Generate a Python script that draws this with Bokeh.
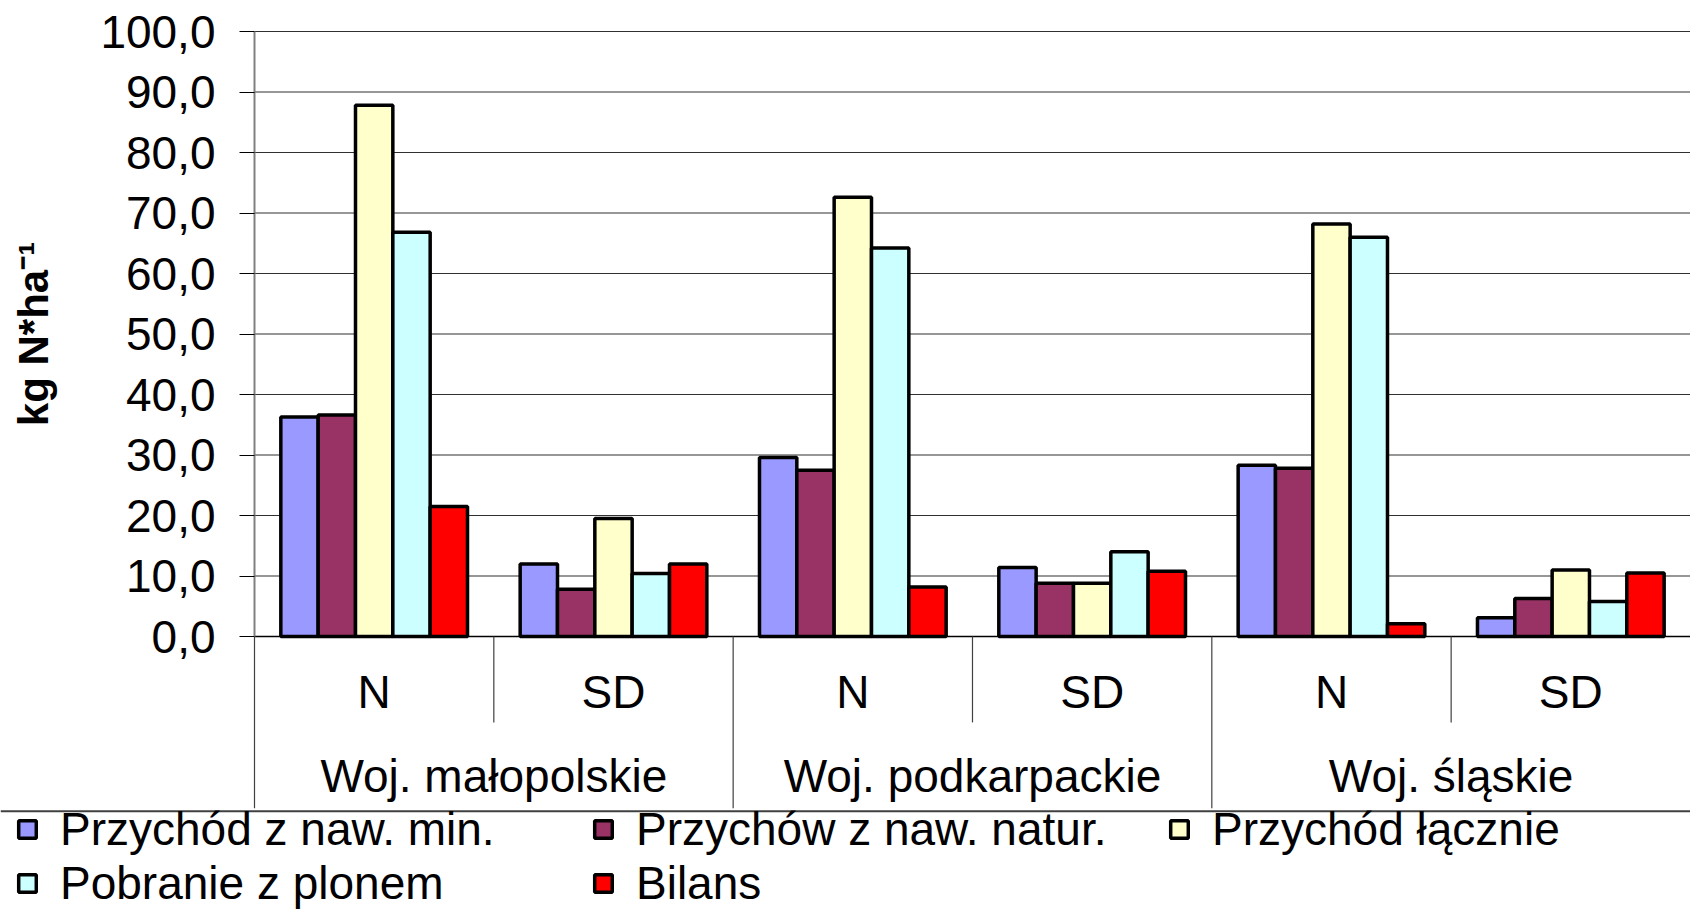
from bokeh.plotting import figure
from bokeh.models import (ColumnDataSource, Range1d, FixedTicker, LinearAxis,
                          Legend, LegendItem, Whisker)
from bokeh.transform import dodge
from bokeh.embed import file_html
from bokeh.resources import INLINE

# ---- data -------------------------------------------------------------
regions = ["Woj. małopolskie", "Woj. podkarpackie", "Woj. śląskie"]
subgroups = ["N", "SD"]
series_names = ["Przychód z naw. min.", "Przychów z naw. natur.",
                "Przychód łącznie", "Pobranie z plonem", "Bilans"]
series_colors = ["#9999FF", "#993366", "#FFFFCC", "#CCFFFF", "#FF0000"]

przychod_min = [36.3, 12.0, 29.6, 11.4, 28.3, 3.1]
przychow_natur = [36.6, 7.8, 27.5, 8.8, 27.8, 6.3]
przychod_lacznie = [87.8, 19.5, 72.6, 8.8, 68.2, 11.0]
pobranie_z_plonem = [66.8, 10.4, 64.2, 14.0, 66.0, 5.8]
bilans = [21.5, 12.0, 8.2, 10.8, 2.1, 10.5]

y_ticks = [0, 10, 20, 30, 40, 50, 60, 70, 80, 90, 100]
y_tick_labels = ["0,0", "10,0", "20,0", "30,0", "40,0", "50,0",
                 "60,0", "70,0", "80,0", "90,0", "100,0"]

# ---- layout helpers (category slots are 1 unit wide) -----------------------
n_sub = len(subgroups)
n_cat = len(regions) * n_sub
sub_labels = [s for _ in regions for s in subgroups]
sub_pos = [i + 0.5 for i in range(n_cat)]
region_pos = [k * n_sub + n_sub / 2 for k in range(len(regions))]

columns = ["min", "natur", "lacznie", "pobranie", "bilans"]
series_values = [przychod_min, przychow_natur, przychod_lacznie,
                 pobranie_z_plonem, bilans]
src = ColumnDataSource(data=dict(x=sub_pos, **dict(zip(columns, series_values))))

FONT = "Liberation Sans"
FS = "46px"

W, H = 1690, 913
PX_PER_CAT = 239.33          # horizontal size of one category slot
PLOT_LEFT = 254              # where the value axis sits
PX_PER_UNIT = 6.05           # vertical pixels per 1 kg
ZERO_Y = 636                 # pixel row of the 0 line
x_start = -PLOT_LEFT / PX_PER_CAT
x_end = (W - PLOT_LEFT) / PX_PER_CAT
y_end = (ZERO_Y) / PX_PER_UNIT
y_start = -(H - ZERO_Y) / PX_PER_UNIT

p = figure(x_range=Range1d(x_start, x_end), y_range=Range1d(y_start, y_end),
           width=W, height=H, min_border=0,
           output_backend="svg", toolbar_location=None,
           background_fill_color="white", border_fill_color="white")
p.outline_line_color = None
p.grid.visible = False

# horizontal grid lines across the plotting area
p.segment(x0=0, x1=x_end, y0=y_ticks, y1=y_ticks,
          line_color="#303030", line_width=1.2)

bar_w = 0.156
offsets = [-2 * bar_w, -bar_w, 0.0, bar_w, 2 * bar_w]
renderers = []
for col, off, color in zip(columns, offsets, series_colors):
    r = p.vbar(x=dodge("x", off), top=col, bottom=0,
               width=bar_w, source=src, fill_color=color,
               line_color="black", line_width=3.5)
    renderers.append(r)

# ---- value axis (fixed at the left edge of the categories) ----------------
ya = p.yaxis[0]
ya.fixed_location = 0
ya.bounds = (0, 100)
ya.ticker = FixedTicker(ticks=y_ticks)
ya.major_label_overrides = {t: l for t, l in zip(y_ticks, y_tick_labels)}
ya.major_label_text_font = FONT
ya.major_label_text_font_size = FS
ya.major_label_text_color = "black"
ya.major_tick_out = 15
ya.major_tick_in = 0
ya.minor_tick_line_color = None
ya.major_tick_line_color = "black"
ya.major_label_standoff = 24
ya.axis_line_color = "#808080"
ya.axis_line_width = 2
ya.axis_label = "kg N*ha⁻¹"
ya.axis_label_text_font = FONT
ya.axis_label_text_font_size = "42px"
ya.axis_label_text_font_style = "bold"
ya.axis_label_text_color = "black"
ya.axis_label_standoff = 40

# ---- category axes (sub level and region level) ---------------------------
xa = p.xaxis[0]
xa.fixed_location = 0
xa.bounds = (0, n_cat)
xa.ticker = FixedTicker(ticks=sub_pos)
xa.major_label_overrides = {v: l for v, l in zip(sub_pos, sub_labels)}
xa.axis_line_color = "black"
xa.axis_line_width = 1.5
xa.major_tick_line_color = None
xa.minor_tick_line_color = None
xa.major_tick_out = 0
xa.major_tick_in = 0
xa.major_label_standoff = 29
xa.major_label_text_font = FONT
xa.major_label_text_font_size = FS
xa.major_label_text_color = "black"

xa2 = LinearAxis(fixed_location=0, ticker=FixedTicker(ticks=region_pos),
                 major_label_overrides={v: l for v, l in zip(region_pos, regions)},
                 axis_line_color=None, major_tick_line_color=None,
                 minor_tick_line_color=None, major_tick_out=0, major_tick_in=0,
                 major_label_standoff=113, major_label_text_font=FONT,
                 major_label_text_font_size=FS, major_label_text_color="black")
p.add_layout(xa2, "below")

# category separators below the axis
bounds = list(range(n_cat))
lower = [-28.4 if b % n_sub == 0 else -14.2 for b in bounds]
sep_src = ColumnDataSource(data=dict(base=bounds, lower=lower, upper=[0] * len(bounds)))
p.add_layout(Whisker(base="base", lower="lower", upper="upper", source=sep_src,
                     dimension="height", lower_head=None, upper_head=None,
                     line_color="#404040", line_width=1.2, level="overlay"))

# legend top border line
top_src = ColumnDataSource(data=dict(base=[-28.9], lower=[x_start], upper=[x_end]))
p.add_layout(Whisker(base="base", lower="lower", upper="upper", source=top_src,
                     dimension="width", lower_head=None, upper_head=None,
                     line_color="#404040", line_width=2, level="overlay"))

legend = Legend(items=[LegendItem(label=n, renderers=[r])
                       for n, r in zip(series_names, renderers)],
                location=(16, 3), orientation="horizontal", ncols=3,
                label_text_font=FONT, label_text_font_size=FS,
                label_text_color="black",
                glyph_width=22, glyph_height=22, label_standoff=22,
                label_width=532, label_height=52,
                spacing=0, padding=0, margin=0,
                border_line_color=None, background_fill_alpha=0)
p.add_layout(legend, "center")

open("out.html", "w").write(file_html(p, INLINE))
